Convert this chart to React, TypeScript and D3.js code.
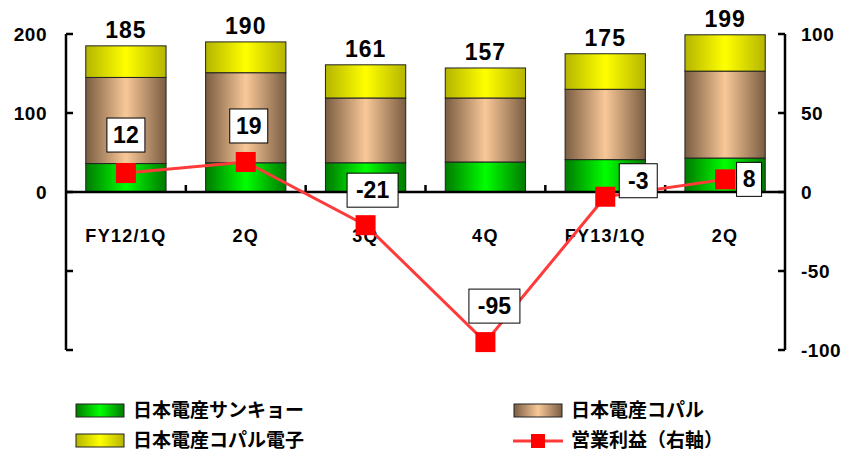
import React from "react";
import * as d3 from "d3";

// quarters
const categories = ["FY12/1Q", "2Q", "3Q", "4Q", "FY13/1Q", "2Q"];
// sales by subsidiary (left axis)
const sankyo = [36, 37, 37, 38, 41, 43];
const copal = [109, 114, 82, 81, 89, 110];
const copalDenshi = [40, 39, 42, 38, 45, 46];
const totals = [185, 190, 161, 157, 175, 199];
// operating profit (right axis)
const profit = [12, 19, -21, -95, -3, 8];

const leftTicks = [-200, -100, 0, 100, 200];
const leftTickLabels = ["", "", "0", "100", "200"];
const rightTicks = [-100, -50, 0, 50, 100];

const seriesNames = ["日本電産サンキョー", "日本電産コパル", "日本電産コパル電子", "営業利益（右軸）"];

const W = 854;
const H = 459;
const left = 66;
const right = 785;
const top = 34;
const bottom = 350;

const latin = "'Liberation Sans', Arial, sans-serif";
const jp = "'Noto Sans CJK JP', sans-serif";

// profit label box offset from the marker
const labelOffset = [
  [0, -38],
  [3, -36],
  [7, -35],
  [9, -36],
  [33, -16],
  [24, 0],
];

export default function App() {
  const x = d3.scaleBand<number>().domain(d3.range(categories.length)).range([left, right]).paddingInner(0.33).paddingOuter(0.165);
  const yL = d3.scaleLinear().domain([-200, 200]).range([bottom, top]);
  const yR = d3.scaleLinear().domain([-100, 100]).range([bottom, top]);
  const step = x.step();

  const stacks = d3.stack<number>().keys(["a", "b", "c"]).value((i, k) =>
    k === "a" ? sankyo[i] : k === "b" ? copal[i] : copalDenshi[i]
  )(d3.range(categories.length));

  const fills = ["url(#gGreen)", "url(#gBrown)", "url(#gYellow)"];

  const line = d3
    .line<number>()
    .x((_, i) => x(i)! + x.bandwidth() / 2)
    .y((d) => yR(d));

  const grad = (id: string, edge: string, mid: string) => (
    <linearGradient id={id} x1="0" x2="1" y1="0" y2="0">
      <stop offset="0" stopColor={edge} />
      <stop offset="0.5" stopColor={mid} />
      <stop offset="1" stopColor={edge} />
    </linearGradient>
  );

  return (
    <svg width={W} height={H} style={{ position: "absolute", left: 0, top: 0, background: "#fff" }}>
      <defs>
        {grad("gGreen", "#007a00", "#00ff00")}
        {grad("gBrown", "#7a5d42", "#f9c898")}
        {grad("gYellow", "#b5b500", "#ffff00")}
      </defs>

      {/* bars */}
      {stacks.map((s, si) =>
        s.map((d, i) => (
          <rect
            key={`${si}-${i}`}
            x={x(i)}
            y={yL(d[1])}
            width={x.bandwidth()}
            height={yL(d[0]) - yL(d[1])}
            fill={fills[si]}
            stroke="#222"
            strokeWidth={1}
          />
        ))
      )}

      {/* totals */}
      {totals.map((t, i) => (
        <text
          key={i}
          x={x(i)! + x.bandwidth() / 2}
          y={yL(t) - 8}
          textAnchor="middle"
          fontFamily={latin}
          fontWeight="bold"
          fontSize={23}
          letterSpacing={1}
        >
          {t}
        </text>
      ))}

      {/* axes */}
      <g stroke="#000" strokeWidth={2.5} fill="none">
        <line x1={left} x2={left} y1={top} y2={bottom} />
        <line x1={right} x2={right} y1={top} y2={bottom} />
        <line x1={left} x2={right} y1={yL(0)} y2={yL(0)} />
        {leftTicks.map((t) => (
          <line key={t} x1={left} x2={left + 7} y1={yL(t)} y2={yL(t)} />
        ))}
        {rightTicks.map((t) => (
          <line key={t} x1={right - 7} x2={right} y1={yR(t)} y2={yR(t)} />
        ))}
        {d3.range(1, categories.length).map((i) => (
          <line key={i} x1={left + step * i} x2={left + step * i} y1={yL(0)} y2={yL(0) - 7} />
        ))}
      </g>

      {leftTicks.map((t, i) => (
        <text key={t} x={47} y={yL(t) + 7} textAnchor="end" fontFamily={latin} fontWeight="bold" fontSize={19} letterSpacing={0.5}>
          {leftTickLabels[i]}
        </text>
      ))}
      {rightTicks.map((t) => (
        <text key={t} x={801} y={yR(t) + 7} textAnchor="start" fontFamily={latin} fontWeight="bold" fontSize={19} letterSpacing={0.5}>
          {t < 0 ? `-${Math.abs(t)}` : t}
        </text>
      ))}

      {categories.map((c, i) => (
        <text key={i} x={x(i)! + x.bandwidth() / 2} y={242} textAnchor="middle" fontFamily={latin} fontWeight="bold" fontSize={18} letterSpacing={1.3}>
          {c}
        </text>
      ))}

      {/* profit line */}
      <path d={line(profit)!} fill="none" stroke="#ff3a3a" strokeWidth={3} />
      {profit.map((p, i) => (
        <rect key={i} x={x(i)! + x.bandwidth() / 2 - 10} y={yR(p) - 10} width={20} height={20} fill="#ff0000" />
      ))}
      {profit.map((p, i) => {
        const cx = x(i)! + x.bandwidth() / 2 + labelOffset[i][0];
        const cy = yR(p) + labelOffset[i][1];
        const label = p < 0 ? `-${Math.abs(p)}` : `${p}`;
        const w = label.length * 13 + 12;
        return (
          <g key={i}>
            <rect x={cx - w / 2} y={cy - 17} width={w} height={34} fill="#fff" stroke="#000" strokeWidth={1} />
            <text x={cx} y={cy + 8} textAnchor="middle" fontFamily={latin} fontWeight="bold" fontSize={23}>
              {label}
            </text>
          </g>
        );
      })}

      {/* legend */}
      <g fontFamily={jp} fontWeight="bold" fontSize={19}>
        <rect x={76} y={404} width={48} height={13} fill="url(#gGreen)" stroke="#222" />
        <text x={133} y={417}>{seriesNames[0]}</text>
        <rect x={76} y={434} width={48} height={13} fill="url(#gYellow)" stroke="#222" />
        <text x={133} y={447}>{seriesNames[2]}</text>
        <rect x={514} y={404} width={48} height={13} fill="url(#gBrown)" stroke="#222" />
        <text x={571} y={417}>{seriesNames[1]}</text>
        <line x1={513} x2={563} y1={441} y2={441} stroke="#ff3a3a" strokeWidth={3} />
        <rect x={531} y={434} width={14} height={14} fill="#ff0000" />
        <text x={571} y={447}>{seriesNames[3]}</text>
      </g>
    </svg>
  );
}
